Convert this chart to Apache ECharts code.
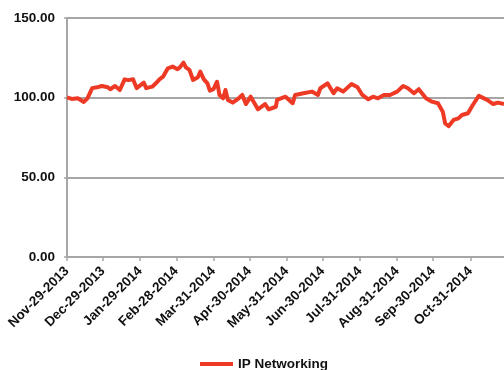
<!DOCTYPE html>
<html>
<head>
<meta charset="utf-8">
<script src="https://cdn.jsdelivr.net/npm/echarts@6/dist/echarts.min.js"></script>
<style>
  html, body { margin: 0; padding: 0; background: #fff; }
  #chart { width: 504px; height: 370px; }
</style>
</head>
<body>
<div id="chart"></div>
<script>
// Index level of the IP Networking group, Nov 2013 – Nov 2014
const seriesName = 'IP Networking';

const dates = [
  '2013-11-29','2013-12-03','2013-12-08','2013-12-13','2013-12-16','2013-12-20','2013-12-24','2013-12-28',
  '2014-01-02','2014-01-04','2014-01-08','2014-01-12','2014-01-16','2014-01-19','2014-01-23','2014-01-26','2014-01-27',
  '2014-02-01','2014-02-03','2014-02-08','2014-02-11','2014-02-14','2014-02-17','2014-02-21','2014-02-25',
  '2014-03-01','2014-03-03','2014-03-06','2014-03-08','2014-03-11','2014-03-14','2014-03-18','2014-03-20','2014-03-23','2014-03-26','2014-03-28','2014-03-31',
  '2014-04-03','2014-04-05','2014-04-08','2014-04-10','2014-04-12','2014-04-16','2014-04-21','2014-04-24','2014-04-27',
  '2014-05-01','2014-05-05','2014-05-07','2014-05-13','2014-05-16','2014-05-22','2014-05-23','2014-05-30',
  '2014-06-05','2014-06-07','2014-06-14','2014-06-21','2014-06-26','2014-06-28',
  '2014-07-04','2014-07-09','2014-07-12','2014-07-17','2014-07-24','2014-07-29',
  '2014-08-02','2014-08-07','2014-08-11','2014-08-15','2014-08-20','2014-08-25','2014-08-31',
  '2014-09-05','2014-09-09','2014-09-14','2014-09-18','2014-09-24','2014-09-29',
  '2014-10-04','2014-10-08','2014-10-10','2014-10-13','2014-10-17','2014-10-21','2014-10-24','2014-10-29',
  '2014-11-02','2014-11-07','2014-11-14','2014-11-19','2014-11-23','2014-11-28'
];

const values = [
  100.2, 99.2, 99.6, 97.3, 99.6, 106.0, 106.5, 107.3,
  106.5, 105.3, 107.3, 104.8, 111.5, 111.0, 111.5, 106.0, 105.3,
  109.4, 106.0, 106.9, 109.0, 111.5, 113.2, 118.4, 119.5,
  117.8, 119.0, 122.0, 119.0, 117.4, 111.1, 112.8, 116.3, 111.5, 109.0, 104.4, 105.3,
  110.0, 101.7, 99.6, 104.8, 98.6, 96.9, 99.6, 101.7, 96.0,
  100.6, 95.4, 92.7, 96.0, 92.7, 94.3, 98.6, 100.6,
  96.5, 101.7, 102.8, 103.8, 101.7, 105.9,
  109.0, 102.8, 105.9, 103.8, 108.6, 106.5,
  101.7, 99.0, 100.6, 99.6, 101.7, 101.7, 103.8,
  107.3, 105.9, 102.8, 105.3, 99.6, 97.5,
  96.5, 91.2, 83.9, 82.2, 86.0, 87.0, 89.1, 90.2,
  95.4, 101.1, 98.6, 96.0, 96.9, 96.0
];

// Dates marked on the horizontal axis
const tickDates = [
  '2013-11-29','2013-12-29','2014-01-29','2014-02-28','2014-03-31','2014-04-30',
  '2014-05-31','2014-06-30','2014-07-31','2014-08-31','2014-09-30','2014-10-31'
];

const yTicks = [0, 50, 100, 150];

const monthNames = ['Jan','Feb','Mar','Apr','May','Jun','Jul','Aug','Sep','Oct','Nov','Dec'];

function toTime(s) {
  const p = s.split('-').map(Number);
  return new Date(p[0], p[1] - 1, p[2]).getTime();
}
function fmtDate(ts) {
  const d = new Date(ts);
  const dd = String(d.getDate()).padStart(2, '0');
  return monthNames[d.getMonth()] + '-' + dd + '-' + d.getFullYear();
}

const tickTimes = tickDates.map(toTime);
const points = dates.map((d, i) => [toTime(d), values[i]]);

const font = "'Liberation Sans', Arial, Helvetica, sans-serif";
const gray = '#a6a6a6';

const chart = echarts.init(document.getElementById('chart'), null, { renderer: 'canvas' });
chart.setOption({
  animation: false,
  backgroundColor: '#ffffff',
  grid: { left: 67, right: 0, top: 18, bottom: 113, containLabel: false },
  xAxis: {
    type: 'value',
    min: toTime('2013-11-29'),
    max: toTime('2014-11-28'),
    axisLine: { show: true, lineStyle: { color: gray, width: 2 } },
    axisTick: { show: true, customValues: tickTimes, length: 4, lineStyle: { color: gray, width: 1.5 } },
    axisLabel: {
      customValues: tickTimes,
      rotate: 45,
      margin: 12,
      formatter: (v) => fmtDate(v),
      fontFamily: font,
      fontWeight: 'bold',
      fontSize: 13.5,
      color: '#111'
    },
    splitLine: { show: false }
  },
  yAxis: {
    type: 'value',
    min: yTicks[0],
    max: yTicks[yTicks.length - 1],
    interval: 50,
    axisLine: { show: true, lineStyle: { color: gray, width: 2 } },
    axisTick: { show: true, length: 3, lineStyle: { color: gray, width: 1.5 } },
    axisLabel: {
      formatter: (v) => v.toFixed(2),
      margin: 12,
      fontFamily: font,
      fontWeight: 'bold',
      fontSize: 13.5,
      color: '#111'
    },
    splitLine: { show: true, lineStyle: { color: gray, width: 2 } }
  },
  legend: {
    data: [seriesName],
    left: 195,
    top: 352,
    icon: 'rect',
    itemWidth: 33,
    itemHeight: 4,
    itemGap: 5,
    textStyle: { fontFamily: font, fontWeight: 'bold', fontSize: 13.5, color: '#111' }
  },
  series: [{
    name: seriesName,
    type: 'line',
    data: points,
    showSymbol: false,
    symbol: 'none',
    lineStyle: { color: '#ee3a25', width: 4, join: 'round' },
    itemStyle: { color: '#ee3a25' }
  }]
});
</script>
</body>
</html>
